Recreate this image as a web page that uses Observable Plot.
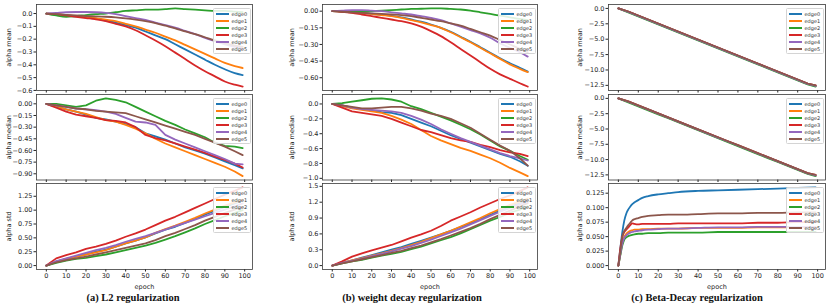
<!DOCTYPE html>
<html><head><meta charset="utf-8">
<script src="https://cdn.jsdelivr.net/npm/d3@7"></script>
<script src="https://cdn.jsdelivr.net/npm/@observablehq/plot@0.6"></script>
<style>
body{margin:0;background:#fff;}
#fig{position:relative;width:831px;height:306px;overflow:hidden;font-family:"DejaVu Sans",sans-serif;background:#fff;}
.panel{position:absolute;}
.legend{position:absolute;background:rgba(255,255,255,0.85);border:1px solid #d4d4d4;border-radius:1.5px;padding:1px 2px 1px 2px;box-sizing:border-box;}
.legend .row{display:flex;align-items:center;height:7px;font-size:5px;color:#333;white-space:nowrap;}
.legend .sw{display:inline-block;width:13px;height:2px;margin-right:2.5px;flex:none;}
.caption{position:absolute;font-family:"Liberation Serif",serif;font-weight:bold;font-size:10.5px;line-height:12px;color:#111;transform:translateX(-50%);white-space:nowrap;}
</style></head>
<body><div id="fig"></div>
<script>
// ---------- data ----------
const edges = ["edge0","edge1","edge2","edge3","edge4","edge5"];
const colors = ["#1f77b4","#ff7f0e","#2ca02c","#d62728","#9467bd","#8c564b"];
const epochs = [0,5,10,15,20,25,30,35,40,45,50,55,60,65,70,75,80,85,90,95,99];
const epochsFine = [0,1,2,3,4,5,6,7,8,10,12,15,20,25,30,40,50,60,70,80,90,99];
const xTicks = [0,10,20,30,40,50,60,70,80,90,100];

// (a) L2 regularization
const aMean0 = [0,-0.005,-0.015,-0.022,-0.03,-0.04,-0.055,-0.07,-0.09,-0.11,-0.14,-0.17,-0.2,-0.24,-0.28,-0.32,-0.36,-0.4,-0.435,-0.465,-0.48];
const aMean1 = [0,-0.005,-0.012,-0.02,-0.028,-0.036,-0.048,-0.06,-0.08,-0.1,-0.125,-0.15,-0.18,-0.21,-0.245,-0.28,-0.315,-0.35,-0.385,-0.41,-0.425];
const aMean2 = [0,-0.015,-0.025,-0.02,-0.012,-0.005,0,0.01,0.02,0.025,0.03,0.03,0.035,0.04,0.035,0.03,0.025,0.02,0.02,0.015,0.01];
const aMean3 = [0,-0.005,-0.015,-0.025,-0.035,-0.045,-0.06,-0.08,-0.1,-0.13,-0.17,-0.21,-0.255,-0.305,-0.355,-0.405,-0.45,-0.49,-0.53,-0.555,-0.57];
const aMean4 = [0,0.005,0.01,0.012,0.012,0.01,0.005,-0.005,-0.02,-0.035,-0.05,-0.07,-0.09,-0.11,-0.135,-0.16,-0.19,-0.215,-0.24,-0.26,-0.27];
const aMean5 = [0,-0.005,-0.01,-0.015,-0.02,-0.022,-0.025,-0.03,-0.038,-0.048,-0.06,-0.075,-0.095,-0.115,-0.14,-0.16,-0.185,-0.21,-0.23,-0.25,-0.26];

const aMed0 = [0,-0.04,-0.07,-0.1,-0.14,-0.18,-0.2,-0.23,-0.26,-0.3,-0.38,-0.42,-0.46,-0.51,-0.56,-0.6,-0.64,-0.69,-0.74,-0.79,-0.83];
const aMed1 = [0,-0.03,-0.07,-0.1,-0.13,-0.17,-0.21,-0.23,-0.27,-0.32,-0.38,-0.45,-0.51,-0.56,-0.61,-0.66,-0.71,-0.76,-0.81,-0.87,-0.93];
const aMed2 = [0,0.0,-0.02,-0.04,-0.02,0.04,0.07,0.05,0.02,-0.04,-0.1,-0.16,-0.22,-0.27,-0.33,-0.38,-0.43,-0.5,-0.54,-0.55,-0.57];
const aMed3 = [0,-0.05,-0.1,-0.14,-0.16,-0.18,-0.21,-0.22,-0.24,-0.3,-0.4,-0.44,-0.47,-0.51,-0.55,-0.59,-0.63,-0.68,-0.72,-0.77,-0.82];
const aMed4 = [0,-0.02,-0.04,-0.06,-0.07,-0.08,-0.1,-0.13,-0.18,-0.23,-0.24,-0.27,-0.4,-0.46,-0.51,-0.56,-0.61,-0.66,-0.71,-0.77,-0.78];
const aMed5 = [0,-0.02,-0.04,-0.06,-0.07,-0.09,-0.1,-0.11,-0.12,-0.16,-0.2,-0.24,-0.28,-0.32,-0.36,-0.4,-0.45,-0.5,-0.55,-0.61,-0.66];

const aStd0 = [0,0.07,0.12,0.16,0.2,0.25,0.29,0.34,0.4,0.45,0.51,0.58,0.65,0.7,0.77,0.84,0.92,0.99,1.06,1.12,1.17];
const aStd1 = [0,0.07,0.12,0.16,0.2,0.24,0.28,0.34,0.4,0.45,0.51,0.59,0.66,0.72,0.79,0.86,0.94,1.01,1.08,1.14,1.19];
const aStd2 = [0,0.05,0.09,0.12,0.14,0.17,0.2,0.24,0.28,0.32,0.36,0.41,0.47,0.53,0.6,0.67,0.75,0.82,0.89,0.95,1.0];
const aStd3 = [0,0.13,0.19,0.24,0.3,0.34,0.39,0.45,0.52,0.58,0.65,0.73,0.81,0.88,0.96,1.04,1.12,1.2,1.28,1.35,1.41];
const aStd4 = [0,0.08,0.13,0.18,0.23,0.28,0.32,0.37,0.43,0.48,0.53,0.59,0.65,0.71,0.77,0.83,0.89,0.95,1.01,1.07,1.12];
const aStd5 = [0,0.06,0.1,0.13,0.16,0.2,0.24,0.28,0.32,0.36,0.4,0.46,0.53,0.59,0.66,0.73,0.81,0.88,0.95,1.01,1.06];

// (b) weight decay regularization
const bMean0 = [0,-0.005,-0.01,-0.015,-0.023,-0.032,-0.042,-0.056,-0.075,-0.095,-0.12,-0.15,-0.185,-0.23,-0.275,-0.325,-0.375,-0.425,-0.47,-0.51,-0.545];
const bMean1 = [0,-0.005,-0.01,-0.015,-0.025,-0.035,-0.045,-0.06,-0.08,-0.1,-0.125,-0.15,-0.19,-0.235,-0.28,-0.33,-0.38,-0.43,-0.48,-0.52,-0.55];
const bMean2 = [0,0,-0.005,-0.005,0,0.005,0.01,0.015,0.02,0.022,0.025,0.025,0.02,0.015,0.005,-0.01,-0.025,-0.04,-0.055,-0.07,-0.08];
const bMean3 = [0,-0.005,-0.015,-0.03,-0.045,-0.06,-0.075,-0.09,-0.11,-0.14,-0.18,-0.225,-0.28,-0.34,-0.4,-0.46,-0.52,-0.57,-0.61,-0.65,-0.68];
const bMean4 = [0,0.005,0.01,0.01,0.005,0,-0.01,-0.02,-0.03,-0.045,-0.06,-0.08,-0.11,-0.14,-0.17,-0.2,-0.24,-0.29,-0.33,-0.37,-0.41];
const bMean5 = [0,-0.005,-0.01,-0.015,-0.02,-0.025,-0.03,-0.035,-0.045,-0.06,-0.075,-0.09,-0.11,-0.13,-0.16,-0.19,-0.22,-0.26,-0.3,-0.34,-0.37];

const bMed0 = [0,-0.02,-0.05,-0.07,-0.09,-0.11,-0.12,-0.15,-0.2,-0.25,-0.3,-0.36,-0.42,-0.47,-0.52,-0.57,-0.62,-0.67,-0.71,-0.77,-0.83];
const bMed1 = [0,-0.03,-0.06,-0.08,-0.1,-0.12,-0.16,-0.21,-0.27,-0.35,-0.43,-0.49,-0.54,-0.59,-0.63,-0.68,-0.73,-0.79,-0.86,-0.92,-0.97];
const bMed2 = [0,0.01,0.03,0.05,0.07,0.075,0.06,0.03,-0.03,-0.07,-0.12,-0.17,-0.22,-0.28,-0.34,-0.41,-0.49,-0.57,-0.63,-0.7,-0.75];
const bMed3 = [0,-0.05,-0.1,-0.12,-0.14,-0.16,-0.2,-0.25,-0.3,-0.35,-0.38,-0.42,-0.46,-0.49,-0.51,-0.55,-0.58,-0.62,-0.65,-0.67,-0.7];
const bMed4 = [0,-0.02,-0.05,-0.07,-0.08,-0.09,-0.1,-0.12,-0.16,-0.21,-0.27,-0.34,-0.4,-0.46,-0.51,-0.56,-0.61,-0.66,-0.7,-0.73,-0.76];
const bMed5 = [0,-0.02,-0.04,-0.06,-0.06,-0.05,-0.04,-0.04,-0.06,-0.09,-0.13,-0.16,-0.2,-0.26,-0.32,-0.4,-0.48,-0.56,-0.63,-0.73,-0.83];

const bStd0 = [0,0.05,0.1,0.15,0.2,0.25,0.3,0.35,0.41,0.47,0.53,0.59,0.66,0.73,0.8,0.88,0.96,1.04,1.12,1.18,1.24];
const bStd1 = [0,0.05,0.1,0.14,0.19,0.23,0.28,0.33,0.39,0.45,0.52,0.59,0.66,0.74,0.82,0.9,0.99,1.07,1.15,1.21,1.27];
const bStd2 = [0,0.04,0.08,0.11,0.15,0.19,0.22,0.26,0.31,0.36,0.42,0.48,0.54,0.61,0.69,0.77,0.85,0.92,1.0,1.06,1.12];
const bStd3 = [0,0.08,0.17,0.23,0.29,0.34,0.39,0.46,0.53,0.59,0.66,0.75,0.85,0.93,1.01,1.1,1.18,1.26,1.33,1.41,1.48];
const bStd4 = [0,0.05,0.09,0.13,0.18,0.22,0.27,0.32,0.37,0.43,0.49,0.56,0.63,0.7,0.78,0.86,0.94,1.02,1.09,1.16,1.2];
const bStd5 = [0,0.04,0.08,0.12,0.16,0.2,0.24,0.28,0.33,0.38,0.44,0.5,0.57,0.64,0.71,0.79,0.88,0.96,1.04,1.12,1.18];

// (c) Beta-Decay regularization
const cMean0 = [0,-0.55,-1.2,-1.85,-2.5,-3.15,-3.8,-4.45,-5.1,-5.75,-6.4,-7.05,-7.7,-8.35,-9.0,-9.65,-10.3,-10.95,-11.6,-12.25,-12.6];
const cMean1 = [0,-0.55,-1.2,-1.85,-2.5,-3.15,-3.8,-4.45,-5.1,-5.75,-6.4,-7.05,-7.7,-8.35,-9.0,-9.65,-10.3,-10.95,-11.6,-12.25,-12.6];
const cMean2 = [0,-0.65,-1.3,-1.95,-2.6,-3.25,-3.9,-4.55,-5.2,-5.85,-6.5,-7.15,-7.8,-8.45,-9.1,-9.75,-10.4,-11.05,-11.7,-12.35,-12.7];
const cMean3 = [0,-0.5,-1.15,-1.8,-2.45,-3.1,-3.75,-4.4,-5.05,-5.7,-6.35,-7.0,-7.65,-8.3,-8.95,-9.6,-10.25,-10.9,-11.55,-12.2,-12.5];
const cMean4 = [0,-0.55,-1.2,-1.85,-2.5,-3.15,-3.8,-4.45,-5.1,-5.75,-6.4,-7.05,-7.7,-8.35,-9.0,-9.65,-10.3,-10.95,-11.6,-12.25,-12.6];
const cMean5 = [0,-0.5,-1.15,-1.8,-2.45,-3.1,-3.75,-4.4,-5.05,-5.7,-6.35,-7.0,-7.65,-8.3,-8.95,-9.6,-10.25,-10.9,-11.55,-12.2,-12.5];

const cMed0 = [0,-0.55,-1.2,-1.85,-2.5,-3.15,-3.8,-4.45,-5.1,-5.75,-6.4,-7.05,-7.7,-8.35,-9.0,-9.65,-10.3,-10.95,-11.6,-12.25,-12.6];
const cMed1 = [0,-0.55,-1.2,-1.85,-2.5,-3.15,-3.8,-4.45,-5.1,-5.75,-6.4,-7.05,-7.7,-8.35,-9.0,-9.65,-10.3,-10.95,-11.6,-12.25,-12.6];
const cMed2 = [0,-0.65,-1.3,-1.95,-2.6,-3.25,-3.9,-4.55,-5.2,-5.85,-6.5,-7.15,-7.8,-8.45,-9.1,-9.75,-10.4,-11.05,-11.7,-12.35,-12.7];
const cMed3 = [0,-0.5,-1.15,-1.8,-2.45,-3.1,-3.75,-4.4,-5.05,-5.7,-6.35,-7.0,-7.65,-8.3,-8.95,-9.6,-10.25,-10.9,-11.55,-12.2,-12.5];
const cMed4 = [0,-0.55,-1.2,-1.85,-2.5,-3.15,-3.8,-4.45,-5.1,-5.75,-6.4,-7.05,-7.7,-8.35,-9.0,-9.65,-10.3,-10.95,-11.6,-12.25,-12.6];
const cMed5 = [0,-0.5,-1.15,-1.8,-2.45,-3.1,-3.75,-4.4,-5.05,-5.7,-6.35,-7.0,-7.65,-8.3,-8.95,-9.6,-10.25,-10.9,-11.55,-12.2,-12.5];

const cStd0 = [0,0.03,0.058,0.078,0.09,0.097,0.102,0.106,0.109,0.113,0.117,0.12,0.123,0.125,0.127,0.129,0.13,0.131,0.132,0.133,0.134,0.135];
const cStd1 = [0,0.02,0.04,0.05,0.055,0.058,0.06,0.061,0.062,0.062,0.063,0.063,0.064,0.064,0.064,0.065,0.065,0.065,0.066,0.066,0.066,0.066];
const cStd2 = [0,0.018,0.035,0.045,0.049,0.051,0.052,0.053,0.054,0.055,0.055,0.056,0.056,0.057,0.057,0.057,0.058,0.058,0.058,0.058,0.058,0.058];
const cStd3 = [0,0.03,0.05,0.058,0.062,0.066,0.07,0.073,0.072,0.071,0.072,0.072,0.072,0.072,0.073,0.073,0.073,0.073,0.074,0.074,0.075,0.075];
const cStd4 = [0,0.02,0.038,0.048,0.052,0.055,0.057,0.058,0.059,0.06,0.061,0.062,0.063,0.064,0.064,0.065,0.066,0.066,0.067,0.067,0.067,0.067];
const cStd5 = [0,0.025,0.05,0.06,0.065,0.07,0.074,0.078,0.08,0.082,0.084,0.086,0.087,0.088,0.088,0.089,0.09,0.09,0.091,0.091,0.092,0.092];

// tick values
const aMeanTicks = [0,-0.1,-0.2,-0.3,-0.4,-0.5,-0.6];
const aMedTicks = [0,-0.15,-0.3,-0.45,-0.6,-0.75,-0.9];
const aStdTicks = [0,0.25,0.5,0.75,1.0,1.25];
const bMeanTicks = [0,-0.15,-0.3,-0.45,-0.6];
const bMedTicks = [0,-0.2,-0.4,-0.6,-0.8,-1.0];
const bStdTicks = [0,0.3,0.6,0.9,1.2,1.5];
const cMeanTicks = [0,-2.5,-5,-7.5,-10,-12.5];
const cMedTicks = [0,-2.5,-5,-7.5,-10,-12.5];
const cStdTicks = [0,0.025,0.05,0.075,0.1,0.125];

const yLabels = ["alpha mean","alpha median","alpha std"];
const captions = ["(a) L2 regularization","(b) weight decay regularization","(c) Beta-Decay regularization"];

// ---------- layout ----------
const frameLeft = [36, 322, 608], frameRight = [252, 537, 825];
const frameTop = [4, 93.5, 182.5], frameBottom = [90, 179, 268.5];
const yLabelOffset = [30, 33, 31];
const captionX = [133, 412, 697];
const ML = 38, MR = 3, MT = 3;

const panels = [
  [{s:[aMean0,aMean1,aMean2,aMean3,aMean4,aMean5],t:aMeanTicks,f:".1f",ep:epochs,curve:"monotone-x"},
   {s:[aMed0,aMed1,aMed2,aMed3,aMed4,aMed5],t:aMedTicks,f:".2f",ep:epochs,curve:"linear"},
   {s:[aStd0,aStd1,aStd2,aStd3,aStd4,aStd5],t:aStdTicks,f:".2f",ep:epochs,curve:"linear"}],
  [{s:[bMean0,bMean1,bMean2,bMean3,bMean4,bMean5],t:bMeanTicks,f:".2f",ep:epochs,curve:"monotone-x"},
   {s:[bMed0,bMed1,bMed2,bMed3,bMed4,bMed5],t:bMedTicks,f:".1f",ep:epochs,curve:"linear"},
   {s:[bStd0,bStd1,bStd2,bStd3,bStd4,bStd5],t:bStdTicks,f:".1f",ep:epochs,curve:"linear"}],
  [{s:[cMean0,cMean1,cMean2,cMean3,cMean4,cMean5],t:cMeanTicks,f:".1f",ep:epochs,curve:"linear"},
   {s:[cMed0,cMed1,cMed2,cMed3,cMed4,cMed5],t:cMedTicks,f:".1f",ep:epochs,curve:"linear"},
   {s:[cStd0,cStd1,cStd2,cStd3,cStd4,cStd5],t:cStdTicks,f:".3f",ep:epochsFine,curve:"monotone-x"}]
];

const fig = document.getElementById("fig");
const xDomain = [-4.95, 103.95];

panels.forEach((col, ci) => {
  col.forEach((p, ri) => {
    const data = p.s.flatMap((arr, k) => arr.map((v, i) => ({epoch: p.ep[i], value: v, edge: edges[k]})));
    const [lo, hi] = d3.extent(data, d => d.value);
    const pad = (hi - lo) * 0.05;
    const fw = frameRight[ci] - frameLeft[ci];
    const fh = frameBottom[ri] - frameTop[ri];
    const MB = ri === 2 ? 24 : 5;
    const last = ri === 2;
    const chart = Plot.plot({
      width: fw + ML + MR,
      height: fh + MT + MB,
      marginLeft: ML, marginRight: MR, marginTop: MT, marginBottom: MB,
      style: {background: "transparent", fontFamily: "DejaVu Sans", fontSize: "6.5px", color: "#262626", overflow: "visible"},
      x: {domain: xDomain, ticks: xTicks, tickSize: 2.5, tickPadding: 1.5,
          tickFormat: last ? (d => String(d)) : (() => ""),
          label: last ? "epoch" : null, labelArrow: "none", labelAnchor: "center", labelOffset: 19},
      y: {domain: [lo - pad, hi + pad], ticks: p.t, tickSize: 2.5, tickPadding: 1.5,
          tickFormat: d3.format(p.f), label: yLabels[ri], labelArrow: "none", labelAnchor: "center", labelOffset: yLabelOffset[ci]},
      color: {domain: edges, range: colors},
      marks: [
        Plot.line(data, {x: "epoch", y: "value", stroke: "edge", z: "edge", strokeWidth: 1.8, curve: p.curve}),
        Plot.frame({stroke: "#3a3a3a", strokeWidth: 0.8})
      ]
    });
    const wrap = document.createElement("div");
    wrap.className = "panel";
    wrap.style.left = (frameLeft[ci] - ML) + "px";
    wrap.style.top = (frameTop[ri] - MT) + "px";
    wrap.appendChild(chart);
    fig.appendChild(wrap);

    // legend
    const lg = document.createElement("div");
    lg.className = "legend";
    lg.style.left = Math.round(frameRight[ci] - 39) + "px";
    lg.style.top = Math.round(frameTop[ri] + 4) + "px";
    lg.style.width = "38px";
    edges.forEach((e, k) => {
      const row = document.createElement("div");
      row.className = "row";
      const sw = document.createElement("span");
      sw.className = "sw";
      sw.style.background = colors[k];
      row.appendChild(sw);
      row.appendChild(document.createTextNode(e));
      lg.appendChild(row);
    });
    fig.appendChild(lg);
  });
  const cap = document.createElement("div");
  cap.className = "caption";
  cap.style.left = captionX[ci] + "px";
  cap.style.top = "292px";
  cap.textContent = captions[ci];
  fig.appendChild(cap);
});
</script>
</body></html>
